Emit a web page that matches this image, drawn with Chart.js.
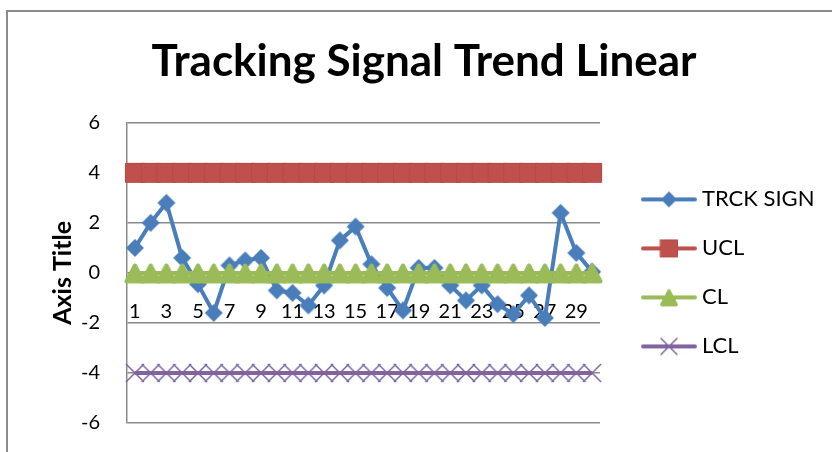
<!DOCTYPE html>
<html>
<head>
<meta charset="utf-8">
<title>Tracking Signal Trend Linear</title>
<script src="https://cdn.jsdelivr.net/npm/chart.js@4.4.1/dist/chart.umd.min.js"></script>
<style>
  html, body { margin: 0; padding: 0; background: #fff; overflow: hidden; }
  #frame {
    position: absolute; left: 6px; top: 10px; width: 832px; height: 450px;
    border-left: 2px solid #8c8c8c; border-top: 2px solid #8c8c8c;
  }
  #frame canvas { display: block; }
</style>
</head>
<body>
<div id="frame"><canvas id="chart" width="832" height="450"></canvas></div>
<script>
/* ── Data ───────────────────────────────────────────────────────── */
var LABELS = ["1", "2", "3", "4", "5", "6", "7", "8", "9", "10",
              "11", "12", "13", "14", "15", "16", "17", "18", "19", "20",
              "21", "22", "23", "24", "25", "26", "27", "28", "29", "30"];

var TRCK_SIGN = [1.0, 2.0, 2.8, 0.6, -0.45, -1.6, 0.3, 0.5, 0.6, -0.7,
                 -0.8, -1.3, -0.5, 1.3, 1.85, 0.35, -0.6, -1.5, 0.2, 0.2,
                 -0.5, -1.1, -0.5, -1.25, -1.65, -0.9, -1.8, 2.4, 0.8, 0.05];

var UCL = [4, 4, 4, 4, 4, 4, 4, 4, 4, 4, 4, 4, 4, 4, 4,
           4, 4, 4, 4, 4, 4, 4, 4, 4, 4, 4, 4, 4, 4, 4];

var CL = [0, 0, 0, 0, 0, 0, 0, 0, 0, 0, 0, 0, 0, 0, 0,
          0, 0, 0, 0, 0, 0, 0, 0, 0, 0, 0, 0, 0, 0, 0];

var LCL = [-4, -4, -4, -4, -4, -4, -4, -4, -4, -4, -4, -4, -4, -4, -4,
           -4, -4, -4, -4, -4, -4, -4, -4, -4, -4, -4, -4, -4, -4, -4];

var SERIES_NAMES = ["TRCK SIGN", "UCL", "CL", "LCL"];
var Y_MIN = -6, Y_MAX = 6, Y_STEP = 2;

/* ── Styles ─────────────────────────────────────────────────────── */
var BLUE = "#4a7ebb", RED = "#c0504d", GREEN = "#9bbb59", PURPLE = "#8064a2";
var GRID = "#8a8a8a";
var FONT = "Lato";
var LEGEND_SIZE = 22, LEGEND_PAD = 27, LEGEND_BOX = 64;
var PLOT_LEFT = 119, PLOT_RIGHT = 592; // plot edges inside the canvas
var YTITLE_X = 55;                      // centre of the y axis title

/* ── Marker images (Excel-like) ─────────────────────────────────── */
function drawMarker(g, kind, cx, cy, s) {
  var h = s / 2;
  g.beginPath();
  if (kind === "diamond") {
    g.moveTo(cx, cy - h); g.lineTo(cx + h, cy); g.lineTo(cx, cy + h); g.lineTo(cx - h, cy);
    g.closePath();
    g.fillStyle = BLUE; g.fill();
  } else if (kind === "square") {
    g.rect(cx - h + 0.5, cy - h + 0.5, s - 1, s - 1);
    g.fillStyle = RED; g.fill();
    g.strokeStyle = "#b54a47"; g.lineWidth = 1; g.stroke();
  } else if (kind === "triangle") {
    // filled triangle with a thick rounded border, as Excel draws it
    g.moveTo(cx, cy - 0.375 * s);
    g.lineTo(cx + 0.425 * s, cy + 0.425 * s);
    g.lineTo(cx - 0.425 * s, cy + 0.425 * s);
    g.closePath();
    g.fillStyle = GREEN; g.fill();
    g.strokeStyle = GREEN; g.lineWidth = 0.2 * s; g.lineJoin = "round"; g.stroke();
  } else if (kind === "cross") {
    g.moveTo(cx - h, cy - h); g.lineTo(cx + h, cy + h);
    g.moveTo(cx + h, cy - h); g.lineTo(cx - h, cy + h);
    g.strokeStyle = PURPLE; g.lineWidth = 1.5; g.stroke();
  }
}

function marker(kind, size) {
  var c = document.createElement("canvas");
  c.width = size + 4; c.height = size + 4;
  drawMarker(c.getContext("2d"), kind, c.width / 2, c.height / 2, size);
  return c;
}

function legendIcon(kind, color, size) {
  var c = document.createElement("canvas");
  c.width = 76; c.height = 22;
  var g = c.getContext("2d");
  g.strokeStyle = color; g.lineWidth = 4; g.lineCap = "round";
  g.beginPath(); g.moveTo(22, 11); g.lineTo(74, 11); g.stroke();
  drawMarker(g, kind, 48, 11, size);
  return c;
}

var MARKERS = [marker("diamond", 18), marker("square", 20), marker("triangle", 20), marker("cross", 18)];
var ICONS = [legendIcon("diamond", BLUE, 16), legendIcon("square", RED, 18),
             legendIcon("triangle", GREEN, 17), legendIcon("cross", PURPLE, 16)];

/* side padding so the plot ends at PLOT_RIGHT and the title stays centred */
var mctx = document.createElement("canvas").getContext("2d");
mctx.font = "normal " + LEGEND_SIZE + "px " + FONT;
var maxText = Math.max.apply(null, SERIES_NAMES.map(function (t) { return mctx.measureText(t).width; }));
var LEGEND_W = LEGEND_PAD + LEGEND_BOX + LEGEND_SIZE / 2 + maxText + 10;
var SIDE_PAD = Math.max(0, 832 - PLOT_RIGHT - LEGEND_W);

function series(idx, data, color) {
  return {
    label: SERIES_NAMES[idx],
    data: data,
    borderColor: color,
    backgroundColor: color,
    borderWidth: 4,
    tension: 0,
    pointStyle: MARKERS[idx],
    pointRadius: 9,
    order: 4 - idx
  };
}

/* ── Chart ──────────────────────────────────────────────────────── */
new Chart(document.getElementById("chart").getContext("2d"), {
  type: "line",
  data: {
    labels: LABELS,
    datasets: [
      series(0, TRCK_SIGN, BLUE),
      series(1, UCL, RED),
      series(2, CL, GREEN),
      series(3, LCL, PURPLE)
    ]
  },
  options: {
    responsive: false,
    animation: false,
    layout: { padding: { left: SIDE_PAD, right: SIDE_PAD, top: 0, bottom: 32 } },
    plugins: {
      tooltip: { enabled: false },
      title: {
        display: true,
        text: "Tracking Signal Trend Linear",
        color: "#000",
        font: { family: FONT, size: 44, weight: "bold" },
        padding: { top: 23, bottom: 35 }
      },
      legend: {
        position: "right",
        fullSize: false,
        maxWidth: 1000,
        labels: {
          color: "#000",
          font: { family: FONT, size: LEGEND_SIZE },
          usePointStyle: true,
          pointStyleWidth: LEGEND_BOX,
          padding: LEGEND_PAD,
          generateLabels: function (chart) {
            return chart.data.datasets.map(function (ds, i) {
              return {
                text: ds.label,
                pointStyle: ICONS[i],
                fillStyle: ds.borderColor,
                strokeStyle: ds.borderColor,
                lineWidth: 0,
                hidden: false,
                datasetIndex: i
              };
            });
          }
        }
      }
    },
    scales: {
      x: {
        type: "category",
        position: { y: 0 },
        offset: true,
        grid: { display: false },
        border: { display: false },
        ticks: {
          color: "#000",
          font: { family: FONT, size: 20 },
          autoSkip: false,
          maxRotation: 0,
          padding: 19,
          callback: function (v, i) { return i % 2 === 0 ? LABELS[i] : ""; }
        }
      },
      y: {
        min: Y_MIN,
        max: Y_MAX,
        afterFit: function (scale) { scale.width = PLOT_LEFT - SIDE_PAD; },
        grid: { color: GRID, lineWidth: 1.5, drawTicks: false },
        border: { display: true, color: GRID, width: 1.5 },
        ticks: {
          stepSize: Y_STEP,
          color: "#000",
          font: { family: FONT, size: 20 },
          padding: 27
        },
        title: {
          display: true,
          text: "Axis Title",
          color: "#000",
          font: { family: FONT, size: 25, weight: "bold" },
          padding: { top: Math.max(0, YTITLE_X - 15 - SIDE_PAD), bottom: 0 }
        }
      }
    }
  }
});
</script>
</body>
</html>
